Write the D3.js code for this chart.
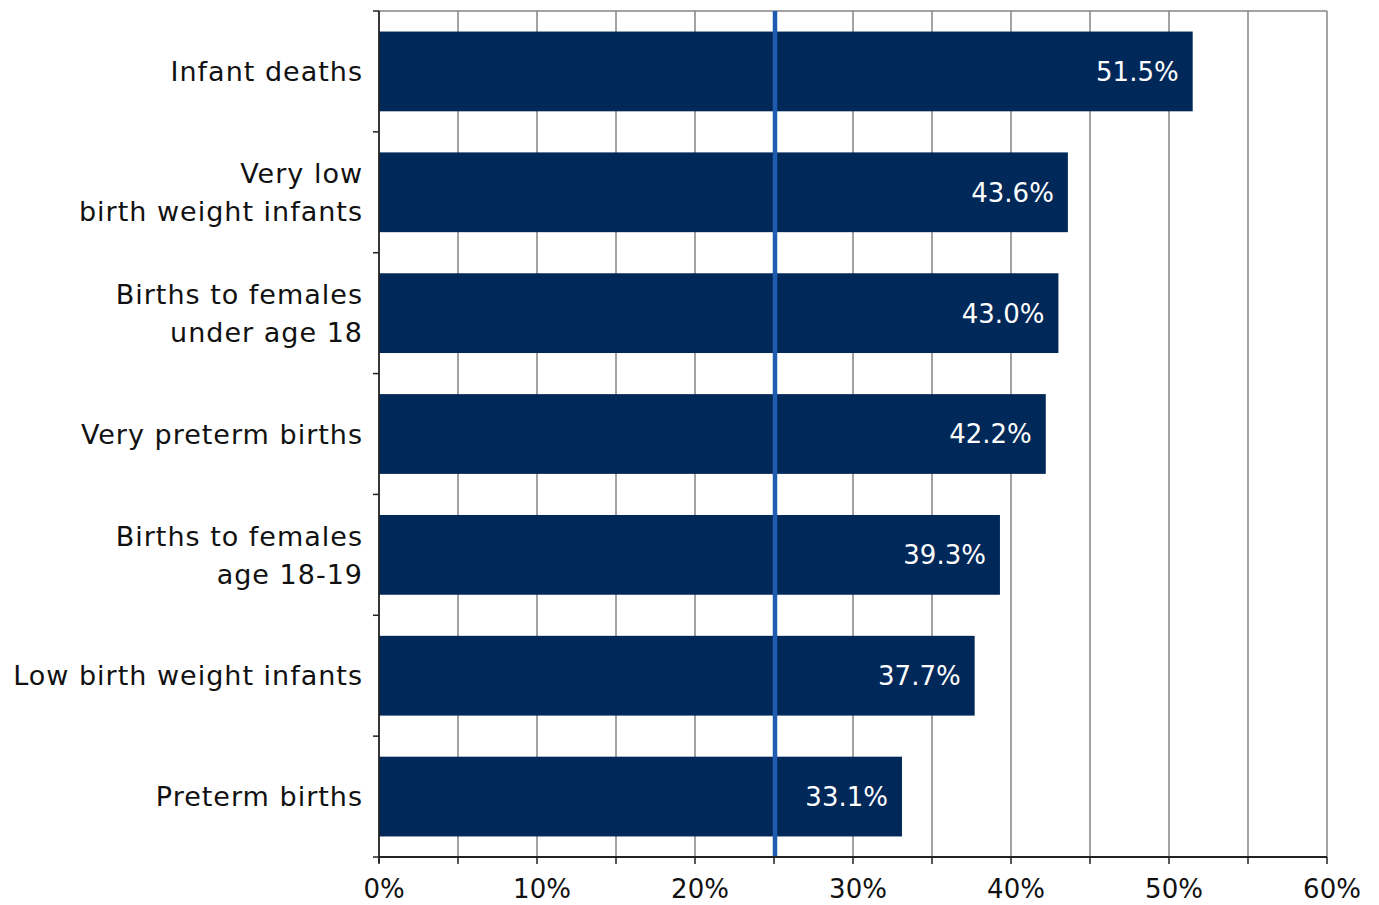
<!DOCTYPE html>
<html>
<head>
<meta charset="utf-8">
<script src="https://cdn.jsdelivr.net/npm/d3@7"></script>
<style>
  body { margin: 0; background: #fff; }
  svg text { font-family: "DejaVu Sans", sans-serif; }
</style>
</head>
<body>
<svg id="vis" width="1379" height="905"></svg>
<script>
const categories = [
    ["Infant deaths"],
    ["Very low", "birth weight infants"],
    ["Births to females", "under age 18"],
    ["Very preterm births"],
    ["Births to females", "age 18-19"],
    ["Low birth weight infants"],
    ["Preterm births"]
];
const values = [51.5, 43.6, 43.0, 42.2, 39.3, 37.7, 33.1];
const xTicks = [0, 10, 20, 30, 40, 50, 60];
const refLine = 25;

const svg = d3.select("#vis");
const LEFT = 379, RIGHT = 1327, TOP = 11, BOTTOM = 857;
const FONT = 26;

const xscale = d3.scaleLinear().domain([0, 60]).range([LEFT, RIGHT]);
const yscale = d3.scaleBand().domain(d3.range(categories.length))
    .range([TOP, BOTTOM]).paddingInner(0.34).paddingOuter(0.17);

// gridlines every 5%
svg.append("g").selectAll("line").data(d3.range(5, 61, 5)).join("line")
    .attr("x1", d => xscale(d)).attr("x2", d => xscale(d))
    .attr("y1", TOP).attr("y2", BOTTOM)
    .attr("stroke", "#858585").attr("stroke-width", 1.5);
svg.append("line")
    .attr("x1", LEFT).attr("x2", RIGHT).attr("y1", TOP).attr("y2", TOP)
    .attr("stroke", "#858585").attr("stroke-width", 1.5);

// bars
svg.append("g").selectAll("rect").data(values).join("rect")
    .attr("x", xscale(0))
    .attr("y", (d, i) => yscale(i))
    .attr("width", d => xscale(d) - xscale(0))
    .attr("height", yscale.bandwidth())
    .attr("fill", "#002859");

// reference line
svg.append("line")
    .attr("x1", xscale(refLine) + 1).attr("x2", xscale(refLine) + 1)
    .attr("y1", TOP).attr("y2", BOTTOM)
    .attr("stroke", "#1f5cb0").attr("stroke-width", 4.5);

// value labels
svg.append("g").selectAll("text").data(values).join("text")
    .attr("x", d => xscale(d) - 14)
    .attr("y", (d, i) => yscale(i) + yscale.bandwidth() / 2)
    .attr("dy", "0.36em")
    .attr("text-anchor", "end")
    .attr("fill", "#fff")
    .style("font-size", FONT + "px")
    .text(d => d.toFixed(1) + "%");

// y axis
const bounds = d3.range(categories.length + 1).map(i => TOP + i * (BOTTOM - TOP) / categories.length);
svg.append("g").selectAll("line").data(bounds).join("line")
    .attr("x1", LEFT - 6).attr("x2", LEFT)
    .attr("y1", d => d).attr("y2", d => d)
    .attr("stroke", "#222").attr("stroke-width", 1.5);
svg.append("line")
    .attr("x1", LEFT).attr("x2", LEFT).attr("y1", TOP).attr("y2", BOTTOM + 6)
    .attr("stroke", "#222").attr("stroke-width", 1.8);

const labels = svg.append("g").selectAll("text").data(categories).join("text")
    .attr("text-anchor", "end")
    .attr("fill", "#111")
    .style("font-size", "27px")
    .style("letter-spacing", "1px")
    .attr("transform", (d, i) => `translate(${LEFT - 16},${yscale(i) + yscale.bandwidth() / 2})`);
labels.selectAll("tspan").data(d => d.map((t, j) => ({t, j, n: d.length}))).join("tspan")
    .attr("x", 0)
    .attr("y", d => (d.j - (d.n - 1) / 2) * 38)
    .attr("dy", "0.36em")
    .text(d => d.t);

// x axis
svg.append("line")
    .attr("x1", LEFT).attr("x2", RIGHT).attr("y1", BOTTOM).attr("y2", BOTTOM)
    .attr("stroke", "#222").attr("stroke-width", 1.8);
svg.append("g").selectAll("line").data(d3.range(0, 61, 5)).join("line")
    .attr("x1", d => xscale(d)).attr("x2", d => xscale(d))
    .attr("y1", BOTTOM).attr("y2", BOTTOM + 7)
    .attr("stroke", "#222").attr("stroke-width", 1.5);
svg.append("g").selectAll("text").data(xTicks).join("text")
    .attr("x", d => xscale(d) + 5)
    .attr("y", 889)
    .attr("dy", "0.36em")
    .attr("text-anchor", "middle")
    .attr("fill", "#111")
    .style("font-size", FONT + "px")
    .text(d => d + "%");
</script>
</body>
</html>
